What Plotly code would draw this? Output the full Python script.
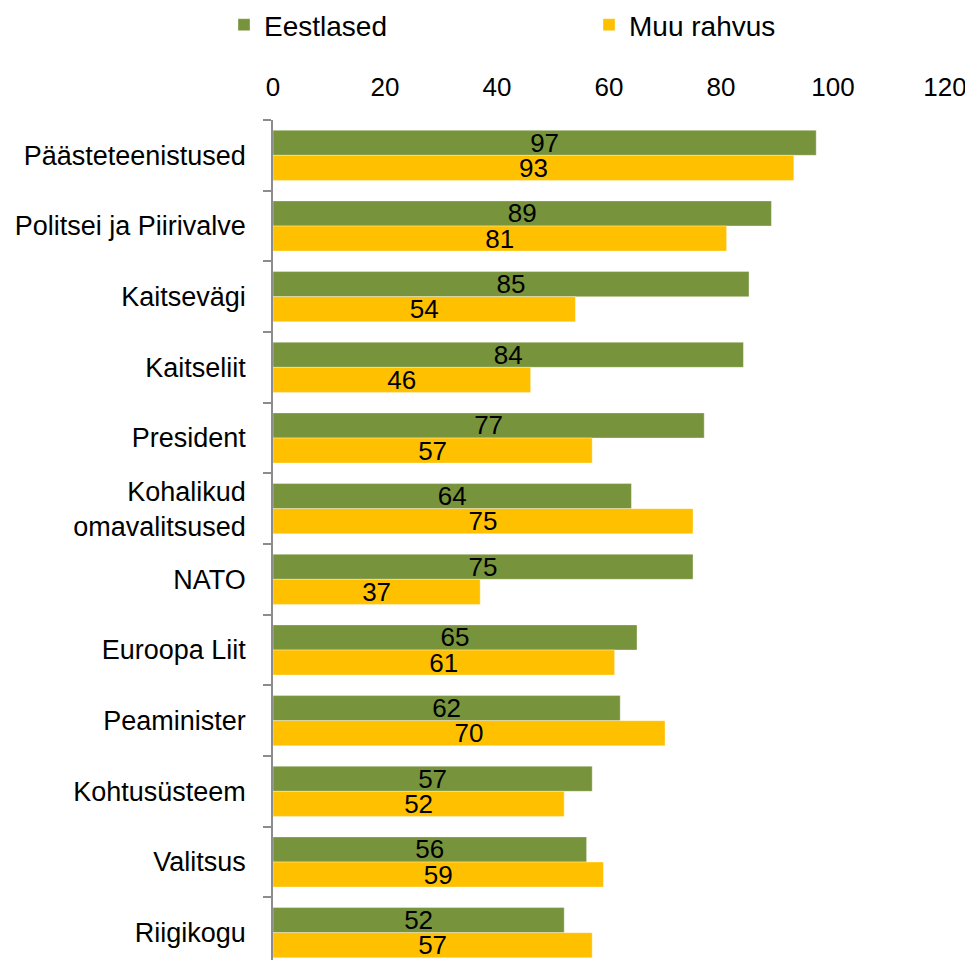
import plotly.graph_objects as go

categories = ["Päästeteenistused", "Politsei ja Piirivalve", "Kaitsevägi", "Kaitseliit",
              "President", "Kohalikud<br>omavalitsused", "NATO", "Euroopa Liit",
              "Peaminister", "Kohtusüsteem", "Valitsus", "Riigikogu"]
eestlased = [97, 89, 85, 84, 77, 64, 75, 65, 62, 57, 56, 52]
muu_rahvus = [93, 81, 54, 46, 57, 75, 37, 61, 70, 52, 59, 57]
x_ticks = [0, 20, 40, 60, 80, 100, 120]

FONT = "Liberation Sans, Arial, sans-serif"
FS = 26

fig = go.Figure()
fig.add_trace(go.Bar(
    y=categories, x=eestlased, orientation="h", name="Eestlased",
    showlegend=True, legend="legend",
    marker=dict(color="#77933C", line=dict(color="rgba(255,255,255,0.6)", width=0.6)),
    text=[str(v) for v in eestlased], textposition="inside", insidetextanchor="middle",
    textangle=0, textfont=dict(size=FS, color="black", family=FONT),
))
fig.add_trace(go.Bar(
    y=categories, x=muu_rahvus, orientation="h", name="Muu rahvus",
    showlegend=True, legend="legend2",
    marker=dict(color="#FFC000", line=dict(color="rgba(255,255,255,0.6)", width=0.6)),
    text=[str(v) for v in muu_rahvus], textposition="inside", insidetextanchor="middle",
    textangle=0, textfont=dict(size=FS, color="black", family=FONT),
))

leg_common = dict(orientation="h", xref="container", yref="container",
                  y=1 - 17 / 960, xanchor="left", yanchor="middle", itemwidth=30,
                  font=dict(size=28), bgcolor="rgba(0,0,0,0)", visible=True)

fig.update_layout(
    width=973, height=960,
    margin=dict(l=265, r=36, t=112, b=0),
    paper_bgcolor="white", plot_bgcolor="white",
    barmode="group", bargap=0.29, bargroupgap=0,
    uniformtext=dict(minsize=FS, mode="show"),
    font=dict(family=FONT, size=FS, color="black"),
    showlegend=True,
    legend=dict(x=216 / 973, **leg_common),
    legend2=dict(x=581 / 973, **leg_common),
    xaxis=dict(side="top", range=[0, 120], tickvals=x_ticks, showgrid=False, zeroline=False,
               showline=False, ticks="", tickfont=dict(size=FS), ticklabelstandoff=18),
    yaxis=dict(type="category", categoryorder="array", categoryarray=categories,
               range=[11.5, -0.5], showgrid=False, zeroline=False,
               showline=True, linecolor="#8c8c8c", linewidth=1.5,
               ticks="outside", ticklen=8, tickcolor="#8c8c8c", tickwidth=1.5,
               tickson="boundaries", tickfont=dict(size=27), ticklabelstandoff=20),
)

fig.write_html("out.html")
